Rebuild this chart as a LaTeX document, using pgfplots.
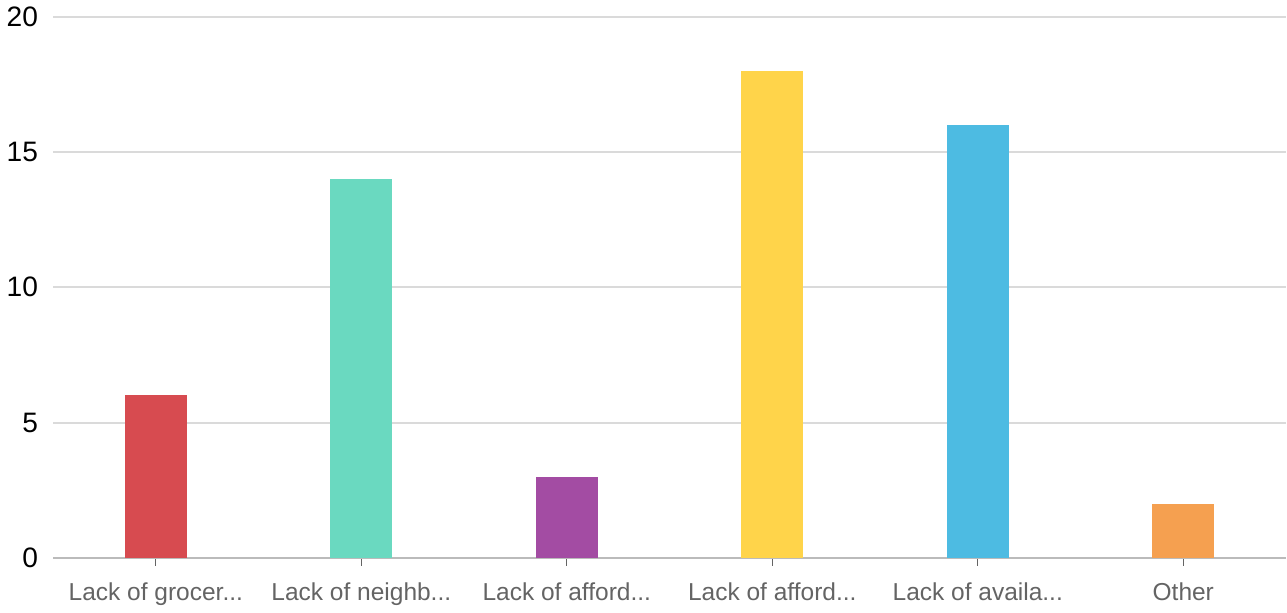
\documentclass[border=0pt]{standalone}
\usepackage{fontspec}
\setmainfont{Liberation Sans}
\usepackage{pgfplots}
\pgfplotsset{compat=1.18}
\definecolor{cred}{RGB}{215,75,80}
\definecolor{cteal}{RGB}{106,217,192}
\definecolor{cpurple}{RGB}{163,76,163}
\definecolor{cyellow}{RGB}{255,212,74}
\definecolor{cblue}{RGB}{77,187,226}
\definecolor{corange}{RGB}{245,160,80}
\definecolor{gridgray}{RGB}{218,218,218}
\definecolor{axgray}{RGB}{187,187,187}
\definecolor{labgray}{RGB}{100,100,100}
\begin{document}
\begin{tikzpicture}
\begin{axis}[
  scale only axis,
  width=614pt, height=269.5pt,
  ybar, bar width=31pt, bar shift=0pt,
  xmin=-0.5, xmax=5.5,
  ymin=0, ymax=20,
  ytick={0,5,10,15,20},
  xtick={0,1,2,3,4,5},
  xticklabels={{Lack of grocer{...}},{Lack of neighb{...}},{Lack of afford{...}},{Lack of afford{...}},{Lack of availa{...}},{Other}},
  axis x line*=bottom, axis y line*=left,
  x axis line style={axgray, line width=1pt, -},
  y axis line style={draw=none},
  ytick style={draw=none},
  xtick style={labgray, line width=0.6pt},
  tick align=outside,
  major tick length=4pt,
  ymajorgrids,
  major grid style={gridgray, line width=1pt},
  /pgf/number format/assume math mode=true,
  yticklabel style={font=\fontsize{14}{16}\selectfont, black, xshift=0pt},
  xticklabel style={font=\fontsize{12.2}{14}\selectfont, labgray, yshift=-5pt},
]
\addplot[fill=cred, draw=none] coordinates {(0,6)};
\addplot[fill=cteal, draw=none] coordinates {(1,14)};
\addplot[fill=cpurple, draw=none] coordinates {(2,3)};
\addplot[fill=cyellow, draw=none] coordinates {(3,18)};
\addplot[fill=cblue, draw=none] coordinates {(4,16)};
\addplot[fill=corange, draw=none] coordinates {(5,2)};
\end{axis}
\end{tikzpicture}
\end{document}
